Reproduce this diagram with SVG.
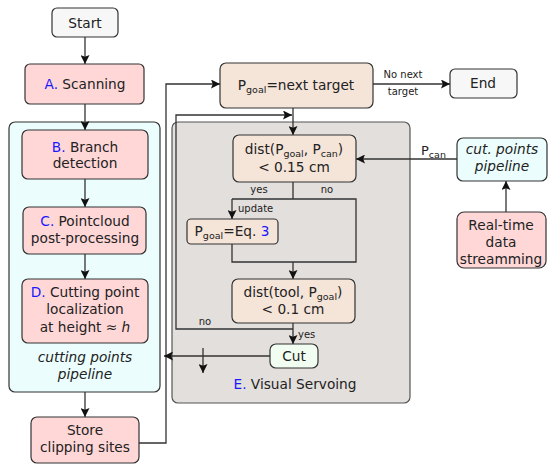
<svg xmlns="http://www.w3.org/2000/svg" width="551" height="464" viewBox="0 0 551 464">
<defs>
<marker id="ah" viewBox="0 0 10 10" refX="10" refY="5" markerWidth="9" markerHeight="9" orient="auto" markerUnits="userSpaceOnUse">
<path d="M0,0 L10,5 L0,10 L2,5 z" fill="#111"/>
</marker>
<style>
text{font-family:"DejaVu Sans","Liberation Sans",sans-serif;fill:#222;}
.t{font-size:13.7px;text-anchor:middle;}
.s{font-size:10px;}
.sub{font-size:9.5px;}
.b{fill:#1a1aff;}
.i{font-style:italic;}
.box{stroke:#333;stroke-width:1.2;}
.pink{fill:#ffd7d7;}
.peach{fill:#f5e4d8;}
.white{fill:#f7f7f7;}
.cyan{fill:#ebfdfd;}
.green{fill:#f0fdf0;}
.con{fill:none;stroke:#333;stroke-width:1.3;}
.arr{marker-end:url(#ah);}
</style>
</defs>
<rect width="551" height="464" fill="#ffffff"/>

<g id="pipeline-container">
<rect class="box cyan" x="9" y="122" width="151" height="270" rx="6"/>
<text class="t i" x="85" y="362">cutting points</text>
<text class="t i" x="85" y="379">pipeline</text>
</g>
<g id="visual-servoing-container">
<rect x="172" y="122" width="238" height="281" rx="6" fill="#e3dfdc" stroke="#555" stroke-width="1.2"/>
<text class="t" x="295" y="389"><tspan class="b">E.</tspan> Visual Servoing</text>
</g>

<g id="connectors">
<path class="con arr" d="M85,37 V64"/>
<path class="con arr" d="M85,104 V130"/>
<path class="con arr" d="M85,179 V207"/>
<path class="con arr" d="M85,254 V279"/>
<path class="con arr" d="M85,392 V417"/>
<path class="con arr" d="M139,443 H166 V84 H220" stroke="#555"/>
<path class="con arr" d="M373,84 H450"/>
<path class="con arr" d="M293,108 V135"/>
<path class="con arr" d="M293,329 H176 V115 H292"/>
<path class="con" d="M293,182 V199 M232,199 H356 V262 H232 V244"/>
<path class="con arr" d="M232,199 V219"/>
<path class="con arr" d="M293,262 V279"/>
<path class="con arr" d="M293,323 V344"/>
<path class="con arr" d="M270,356 H164"/>
<path class="con arr" d="M203,348 V373"/>
<path class="con arr" d="M457,159 H356"/>
<path class="con arr" d="M506,212 V181"/>
<text class="s" x="403" y="78" text-anchor="middle">No next</text>
<text class="s" x="403" y="95" text-anchor="middle">target</text>
<text class="s" x="259" y="193" text-anchor="middle">yes</text>
<text class="s" x="327" y="193" text-anchor="middle">no</text>
<text class="s" x="238" y="212">update</text>
<text class="s" x="205" y="325" text-anchor="middle">no</text>
<text class="s" x="298" y="338">yes</text>
<text x="421" y="155" font-size="13px">P<tspan class="sub" dy="3">can</tspan></text>
</g>

<g id="start">
<rect class="box white" x="52" y="8" width="66" height="29" rx="5"/>
<text class="t" x="85" y="28">Start</text>
</g>
<g id="scanning">
<rect class="box pink" x="25" y="64" width="119" height="40" rx="5"/>
<text class="t" x="85" y="89"><tspan class="b">A.</tspan> Scanning</text>
</g>
<g id="branch-detection">
<rect class="box pink" x="22" y="130" width="126" height="49" rx="6"/>
<text class="t" x="85" y="152"><tspan class="b">B.</tspan> Branch</text>
<text class="t" x="85" y="168">detection</text>
</g>
<g id="pointcloud">
<rect class="box pink" x="23" y="207" width="123" height="47" rx="6"/>
<text class="t" x="85" y="226"><tspan class="b">C.</tspan> Pointcloud</text>
<text class="t" x="85" y="243">post-processing</text>
</g>
<g id="cutting-point">
<rect class="box pink" x="22" y="279" width="126" height="64" rx="6"/>
<text class="t" x="85" y="297"><tspan class="b">D.</tspan> Cutting point</text>
<text class="t" x="85" y="314">localization</text>
<text class="t" x="85" y="332">at height ≈ <tspan class="i">h</tspan></text>
</g>
<g id="store">
<rect class="box pink" x="31" y="417" width="108" height="46" rx="6"/>
<text class="t" x="85" y="435">Store</text>
<text class="t" x="85" y="452">clipping sites</text>
</g>
<g id="next-target">
<rect class="box peach" x="220" y="63" width="153" height="45" rx="6"/>
<text class="t" x="296" y="90">P<tspan class="sub" dy="3">goal</tspan><tspan dy="-3">=next target</tspan></text>
</g>
<g id="end">
<rect class="box white" x="450" y="69" width="67" height="29" rx="5"/>
<text class="t" x="483" y="88">End</text>
</g>
<g id="dist-can">
<rect class="box peach" x="233" y="135" width="123" height="47" rx="6"/>
<text class="t" x="294" y="154">dist(P<tspan class="sub" dy="2.5">goal</tspan><tspan dy="-2.5">, P</tspan><tspan class="sub" dy="2.5">can</tspan><tspan dy="-2.5">)</tspan></text>
<text class="t" x="294" y="172">&lt; 0.15 cm</text>
</g>
<g id="eq3">
<rect class="box peach" x="187" y="219" width="91" height="25" rx="4"/>
<text class="t" x="232" y="236">P<tspan class="sub" dy="3">goal</tspan><tspan dy="-3">=Eq. </tspan><tspan class="b">3</tspan></text>
</g>
<g id="dist-tool">
<rect class="box peach" x="232" y="279" width="123" height="44" rx="6"/>
<text class="t" x="293" y="297">dist(tool, P<tspan class="sub" dy="2.5">goal</tspan><tspan dy="-2.5">)</tspan></text>
<text class="t" x="293" y="314">&lt; 0.1 cm</text>
</g>
<g id="cut">
<rect class="box green" x="270" y="344" width="48" height="24" rx="6"/>
<text class="t" x="294" y="361">Cut</text>
</g>
<g id="cut-points-pipeline">
<rect class="box cyan" x="457" y="138" width="90" height="43" rx="6"/>
<text class="t i" x="502" y="154">cut. points</text>
<text class="t i" x="502" y="171">pipeline</text>
</g>
<g id="real-time">
<rect class="box pink" x="457" y="212" width="89" height="56" rx="7"/>
<text class="t" x="501" y="230">Real-time</text>
<text class="t" x="501" y="247">data</text>
<text class="t" x="501" y="264">streamming</text>
</g>
</svg>
